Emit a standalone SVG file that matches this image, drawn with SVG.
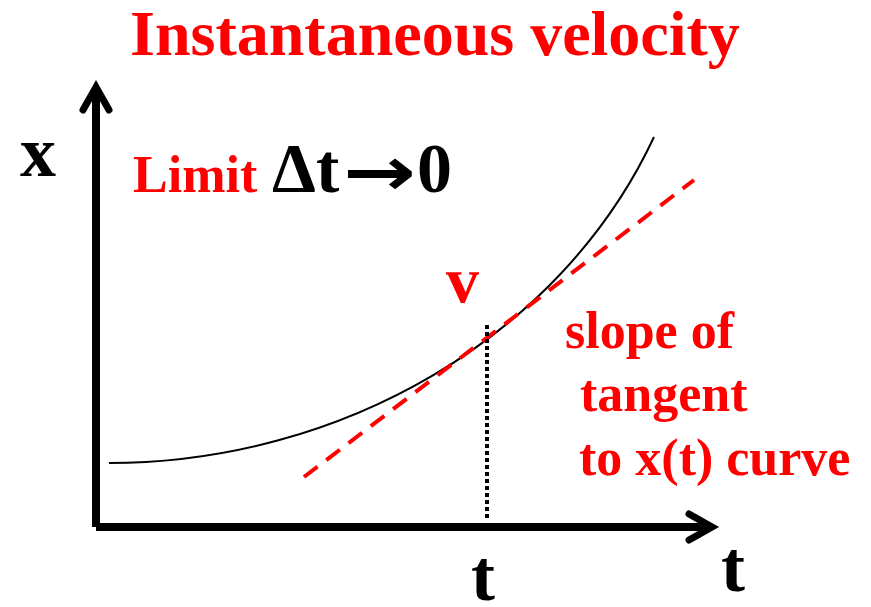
<svg xmlns="http://www.w3.org/2000/svg" width="871" height="607" viewBox="0 0 871 607">
<style>
.t{font-family:"Liberation Serif","Times New Roman",serif;font-weight:bold}
.red{fill:#FF0000}
.blk{fill:#000}
.axis{stroke:#000;stroke-width:8;fill:none}
.head{stroke:#000;stroke-width:7;fill:none;stroke-linecap:round;stroke-linejoin:miter;stroke-miterlimit:10}
</style>
<rect width="871" height="607" fill="#fff"/>
<g id="title"><text class="t red" x="130" y="55" font-size="64">Instantaneous velocity</text></g>
<g id="connectors">
<g id="axes">
<line class="axis" x1="96" y1="87" x2="96" y2="527"/>
<line class="axis" x1="96" y1="527" x2="712" y2="527"/>
<path class="head" d="M83,110 L96,87 L109,110"/>
<path class="head" d="M689,514 L712,527 L689,540"/>
</g>
<path id="curve" fill="none" stroke="#000" stroke-width="2" d="M109,463 C340,463 560,338 654,137"/>
<line id="tangent" x1="304" y1="477" x2="694" y2="180" stroke="#FF0000" stroke-width="4" stroke-dasharray="17 11"/>
<line id="drop" x1="487" y1="325" x2="487" y2="519" stroke="#000" stroke-width="4" stroke-dasharray="4 3"/>
</g>
<g id="x-label"><text class="t blk" x="20" y="176" font-size="72">x</text></g>
<g id="t-axis-label"><text class="t blk" x="721" y="591" font-size="72">t</text></g>
<g id="t-label"><text class="t blk" x="471" y="600" font-size="72">t</text></g>
<g id="limit">
<text class="t red" x="133" y="192" font-size="52">Limit</text>
<text class="t blk" x="272" y="192" font-size="70">Δt</text>
<text class="blk" x="343" y="195" font-size="68" font-family="'DejaVu Sans',sans-serif" font-weight="bold" textLength="73" lengthAdjust="spacingAndGlyphs">→</text>
<text class="t blk" x="417" y="192" font-size="70">0</text>
</g>
<g id="v-label"><text class="t red" x="446" y="302" font-size="66">v</text></g>
<g id="slope-note">
<text class="t red" x="565" y="348" font-size="52">slope of</text>
<text class="t red" x="580" y="411" font-size="52">tangent</text>
<text class="t red" x="579" y="475" font-size="52">to x(t) curve</text>
</g>
</svg>
